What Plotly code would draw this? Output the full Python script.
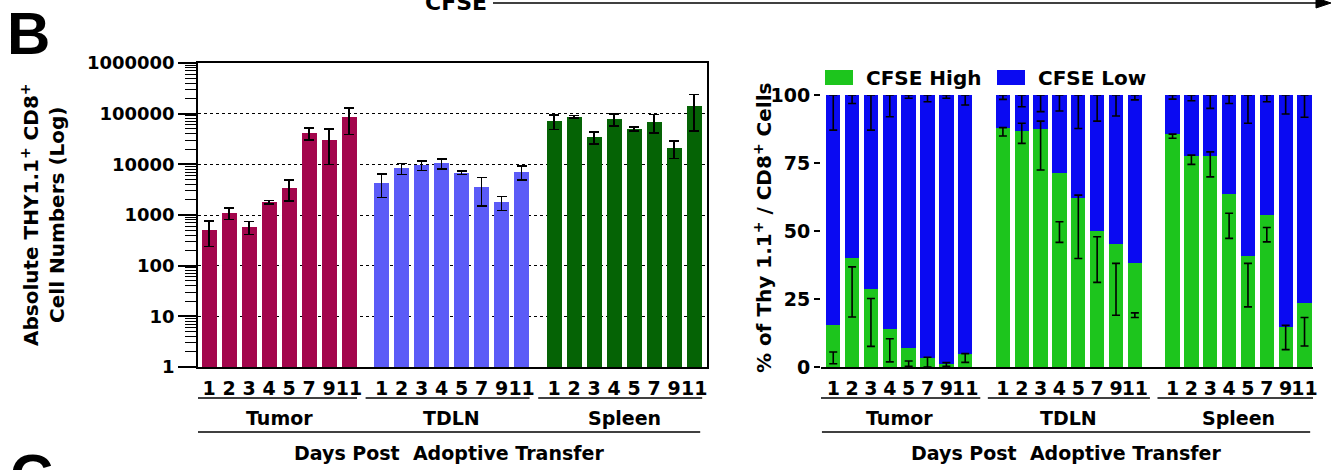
import plotly.graph_objects as go

# ---------------- data ----------------
days = ["1", "2", "3", "4", "5", "7", "9", "11"]
groups = ["Tumor", "TDLN", "Spleen"]

# Left panel: absolute THY1.1+ CD8+ numbers (mean, SEM)
tumor_mean = [500, 1100, 580, 1800, 3400, 41000, 30000, 85000]
tumor_sem = [260, 280, 170, 150, 1500, 10500, 20000, 46000]
tdln_mean = [4300, 8300, 9600, 10400, 6800, 3500, 1780, 7100]
tdln_sem = [2100, 2000, 2000, 2400, 550, 2000, 550, 2200]
spleen_mean = [71000, 87000, 34500, 78000, 50000, 69000, 21000, 142000]
spleen_sem = [22000, 5000, 9000, 21000, 4500, 27000, 8000, 96000]

log_tickvals = [1, 10, 100, 1000, 10000, 100000, 1000000]
log_ticktext = ["1", "10", "100", "1000", "10000", "100000", "1000000"]

# Right panel: % CFSE High (CFSE Low = 100 - High)
tumor_high = [15.3, 40.1, 28.8, 13.8, 7.0, 3.4, 1.0, 4.9]
tdln_high = [88.0, 86.7, 87.5, 71.2, 62.3, 49.9, 45.3, 38.3]
spleen_high = [85.5, 77.7, 77.7, 63.6, 40.9, 55.8, 14.7, 23.6]

# error bar extents as drawn (low, high) for CFSE High
tumor_high_err_lo = [1.2, 18.4, 7.6, 1.9, 0.3, 0.0, 0.3, 1.7]
tumor_high_err_hi = [5.5, 36.8, 25.2, 10.4, 2.2, 3.6, 1.6, 4.9]
tdln_high_err_lo = [84.9, 82.2, 72.4, 45.8, 39.9, 31.1, 19.0, 18.2]
tdln_high_err_hi = [88.0, 89.6, 90.4, 53.4, 63.2, 47.9, 38.1, 19.9]
spleen_high_err_lo = [84.1, 74.5, 69.9, 47.3, 22.1, 46.0, 6.4, 7.7]
spleen_high_err_hi = [85.6, 77.9, 79.1, 56.5, 38.1, 51.3, 15.3, 18.2]
# CFSE Low error bars hang from the top of the stack (100) down to:
tumor_low_err_lo = [87.1, 96.9, 87.1, 92.0, 98.8, 97.5, 98.8, 96.3]
tdln_low_err_lo = [98.4, 95.7, 93.9, 94.1, 87.7, 90.4, 92.3, 98.2]
spleen_low_err_lo = [98.5, 97.9, 95.1, 96.9, 89.6, 97.5, 93.0, 91.8]

pct_tickvals = [0, 25, 50, 75, 100]
pct_ticktext = ["0", "25", "50", "75", "100"]

# ---------------- style ----------------
W, H = 1333, 470
FONT = "DejaVu Sans"
left_colors = ["#A3064C", "#5B5BF7", "#056305"]
high_color = "#1DC51D"
low_color = "#0A0AF2"


def px_x(p):
    return p / W


def px_y(p):
    return 1 - p / H


gap_l = 0.63
gap_r = 1.0
n = len(days)
pos_l = [[g * (n + gap_l) + i for i in range(n)] for g in range(len(groups))]
pos_r = [[g * (n + gap_r) + i for i in range(n)] for g in range(len(groups))]

fig = go.Figure()

# ---- left panel bars
for g, (m, s) in enumerate([(tumor_mean, tumor_sem), (tdln_mean, tdln_sem),
                            (spleen_mean, spleen_sem)]):
    fig.add_trace(go.Bar(
        x=pos_l[g], y=m, width=0.75, marker=dict(color=left_colors[g], line=dict(width=0)),
        error_y=dict(type="data", array=s, color="black", thickness=1.6, width=5),
        xaxis="x", yaxis="y", showlegend=False, name=groups[g]))

# ---- right panel stacked bars
highs = [tumor_high, tdln_high, spleen_high]
all_pos_r = sum(pos_r, [])
all_high = sum(highs, [])
all_low = [100 - v for v in all_high]
fig.add_trace(go.Bar(x=all_pos_r, y=all_high, width=0.76, name="CFSE High",
                     marker=dict(color=high_color, line=dict(width=0)),
                     xaxis="x2", yaxis="y2", showlegend=False))
fig.add_trace(go.Bar(x=all_pos_r, y=all_low, width=0.76, name="CFSE Low",
                     marker=dict(color=low_color, line=dict(width=0)),
                     xaxis="x2", yaxis="y2", showlegend=False))

hi_lo = tumor_high_err_lo + tdln_high_err_lo + spleen_high_err_lo
hi_hi = tumor_high_err_hi + tdln_high_err_hi + spleen_high_err_hi
lo_lo = tumor_low_err_lo + tdln_low_err_lo + spleen_low_err_lo
for lo, hi in [(hi_lo, hi_hi), (lo_lo, [100] * len(lo_lo))]:
    fig.add_trace(go.Scatter(
        x=all_pos_r, y=[(a + b) / 2 for a, b in zip(lo, hi)], mode="markers",
        marker=dict(size=1, color="rgba(0,0,0,0)"),
        error_y=dict(type="data", array=[(b - a) / 2 for a, b in zip(lo, hi)],
                     color="black", thickness=1.6, width=4),
        xaxis="x2", yaxis="y2", showlegend=False, cliponaxis=False, hoverinfo="skip"))

bold = dict(family=FONT, color="black", weight="bold")

fig.update_layout(
    width=W, height=H, margin=dict(l=0, r=0, t=0, b=0, autoexpand=False),
    paper_bgcolor="white", plot_bgcolor="white", barmode="stack",
    font=dict(family=FONT, color="black"),
    xaxis=dict(domain=[px_x(198), px_x(707)], range=[-0.55, 24.9], anchor="y",
               automargin=False, tickangle=0,
               tickmode="array", tickvals=sum(pos_l, []), ticktext=days * 3,
               ticks="outside", ticklen=3, tickcolor="rgba(0,0,0,0)",
               tickfont=dict(size=19, **bold), showline=True, linecolor="black",
               linewidth=1.6, mirror=True, showgrid=False, zeroline=False),
    yaxis=dict(domain=[px_y(367), px_y(63)], type="log", range=[0, 6], anchor="x",
               automargin=False,
               tickmode="array", tickvals=log_tickvals, ticktext=log_ticktext,
               ticks="outside", ticklen=18, tickwidth=1.6, tickcolor="black",
               minor=dict(ticks="outside", ticklen=11, tickwidth=1, tickcolor="black",
                          dtick="D1", showgrid=False),
               tickfont=dict(size=18, **bold), showline=True, linecolor="black",
               linewidth=1.6, mirror=True, showgrid=True, gridcolor="black",
               griddash="dot", gridwidth=1, zeroline=False),
    yaxis3=dict(overlaying="y", side="right", anchor="x", type="log", range=[0, 6],
                automargin=False,
                tickmode="array", tickvals=log_tickvals, showticklabels=False,
                ticks="outside", ticklen=11, tickwidth=1.6, tickcolor="black",
                minor=dict(ticks="outside", ticklen=11, tickwidth=1, tickcolor="black",
                           dtick="D1", showgrid=False),
                showline=False, showgrid=False, zeroline=False),
    xaxis2=dict(domain=[px_x(821), px_x(1313)], range=[-0.65, 25.45], anchor="y2",
                automargin=False, tickangle=0,
                tickmode="array", tickvals=all_pos_r, ticktext=days * 3,
                ticks="outside", ticklen=3, tickcolor="rgba(0,0,0,0)",
                tickfont=dict(size=19, **bold), showline=True, linecolor="black",
                linewidth=2.2, showgrid=False, zeroline=False),
    yaxis2=dict(domain=[px_y(367), px_y(95)], range=[0, 100], anchor="x2",
                automargin=False,
                tickmode="array", tickvals=pct_tickvals, ticktext=pct_ticktext,
                ticks="outside", ticklen=6, tickwidth=2, tickcolor="black",
                tickfont=dict(size=19, **bold), showline=False, showgrid=False,
                zeroline=False),
)

shapes = []
annotations = []
# y-axis titles
annotations.append(dict(xref="paper", yref="paper", x=px_x(43), y=px_y(215),
                        text="Absolute THY1.1<sup>+</sup> CD8<sup>+</sup><br>Cell Numbers (Log)",
                        textangle=-90, showarrow=False, font=dict(size=20, **bold),
                        xanchor="center", yanchor="middle"))
annotations.append(dict(xref="paper", yref="paper", x=px_x(763), y=px_y(228),
                        text="% of Thy 1.1<sup>+</sup> / CD8<sup>+</sup> Cells",
                        textangle=-90, showarrow=False, font=dict(size=20, **bold),
                        xanchor="center", yanchor="middle"))
# group underlines, group labels, long lines, axis captions
for xref, pos, ext_l, ext_r in [("x", pos_l, 0.8, 0.4), ("x2", pos_r, 0.8, 0.8)]:
    for g, name in enumerate(groups):
        shapes.append(dict(type="line", xref=xref, yref="paper",
                           x0=pos[g][0] - ext_l, x1=pos[g][-1] + ext_r,
                           y0=px_y(398), y1=px_y(398), line=dict(color="black", width=1.6)))
        annotations.append(dict(xref=xref, yref="paper", x=sum(pos[g]) / n, y=px_y(418),
                                text=name, showarrow=False, font=dict(size=19, **bold),
                                xanchor="center", yanchor="middle"))
    x0 = pos[0][0] - 0.6
    x1 = pos[-1][-1] + 0.3
    shapes.append(dict(type="line", xref=xref, yref="paper", x0=x0, x1=x1,
                       y0=px_y(432), y1=px_y(432), line=dict(color="black", width=1.6)))
    annotations.append(dict(xref=xref, yref="paper", x=(x0 + x1) / 2, y=px_y(453),
                            text="Days Post\u00a0 Adoptive Transfer", showarrow=False,
                            font=dict(size=19, **bold), xanchor="center", yanchor="middle"))

# legend (manual swatches)
legend_items = [("CFSE High", high_color, 825, 853, 864), ("CFSE Low", low_color, 997, 1025, 1036)]
for label, color, sx0, sx1, tx in legend_items:
    shapes.append(dict(type="rect", xref="paper", yref="paper", x0=px_x(sx0), x1=px_x(sx1),
                       y0=px_y(85), y1=px_y(70), fillcolor=color, line=dict(width=0)))
    annotations.append(dict(xref="paper", yref="paper", x=px_x(tx), y=px_y(77.5), text=label,
                            showarrow=False, font=dict(size=20, **bold),
                            xanchor="left", yanchor="middle"))

# CFSE arrow at top
shapes.append(dict(type="line", xref="paper", yref="paper", x0=px_x(493), x1=px_x(1322),
                   y0=px_y(3), y1=px_y(3), line=dict(color="black", width=1.6)))
shapes.append(dict(type="path", xref="paper", yref="paper",
                   path="M %f,%f L %f,%f L %f,%f Z" % (px_x(1331), px_y(3), px_x(1316), px_y(-2),
                                                       px_x(1316), px_y(8)),
                   fillcolor="black", line=dict(color="black", width=1)))
annotations.append(dict(xref="paper", yref="paper", x=px_x(456), y=px_y(2), text="CFSE",
                        showarrow=False, font=dict(size=22, **bold),
                        xanchor="center", yanchor="middle"))
# panel letters
annotations.append(dict(xref="paper", yref="paper", x=px_x(5), y=px_y(33), text="B",
                        showarrow=False, font=dict(size=60, family="Liberation Sans",
                                                   color="black", weight="bold"),
                        xanchor="left", yanchor="middle"))
annotations.append(dict(xref="paper", yref="paper", x=px_x(8), y=px_y(476), text="C",
                        showarrow=False, font=dict(size=60, family="Liberation Sans",
                                                   color="black", weight="bold"),
                        xanchor="left", yanchor="middle"))

fig.update_layout(shapes=shapes, annotations=annotations)
fig.write_html("out.html", config={"displayModeBar": False},
               post_script="document.body.style.margin='0';document.body.style.overflow='hidden';")
